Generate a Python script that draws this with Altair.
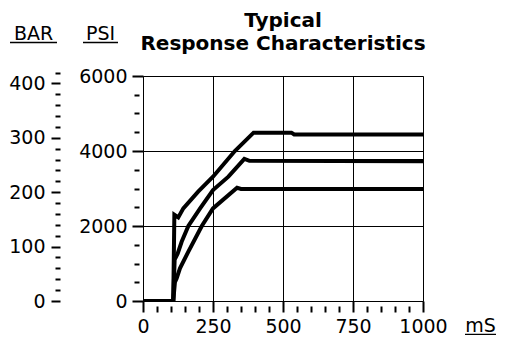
import altair as alt
import pandas as pd

# ---------------- data ----------------
title_lines = ["Typical", "Response Characteristics"]
label_bar = "BAR"
label_psi = "PSI"
label_time = "mS"

series_names = ["High", "Mid", "Low"]

ms_high = [0, 108, 112, 126, 144, 197, 250, 328, 395, 530, 540, 1000]
psi_high = [0, 0, 2300, 2230, 2470, 2915, 3315, 4000, 4490, 4490, 4440, 4440]

ms_mid = [0, 108, 113, 124, 138, 162, 204, 250, 305, 362, 380, 1000]
psi_mid = [0, 0, 1100, 1270, 1580, 2000, 2470, 2960, 3315, 3790, 3740, 3730]

ms_low = [0, 108, 114, 120, 132, 162, 210, 250, 336, 350, 1000]
psi_low = [0, 0, 500, 600, 870, 1316, 2000, 2470, 3020, 2990, 2990]

x_major = [0, 250, 500, 750, 1000]
x_minor = [50, 100, 150, 200, 300, 350, 400, 450, 550, 600, 650, 700,
           800, 850, 900, 950]
psi_major = [0, 2000, 4000, 6000]
psi_minor = [500, 1000, 1500, 2500, 3000, 3500, 4500, 5000, 5500]
bar_major = [0, 100, 200, 300, 400]
bar_minor = [20, 40, 60, 80, 120, 140, 160, 180, 220, 240, 260, 280,
             320, 340, 360, 380, 420]

PSI_PER_BAR = 14.5038

# ---------------- layout constants ----------------
W, H = 280, 225
FONT = "DejaVu Sans"
LFS = 19

rows = []
for name, xs, ys in [("High", ms_high, psi_high), ("Mid", ms_mid, psi_mid), ("Low", ms_low, psi_low)]:
    for a, b in zip(xs, ys):
        rows.append({"series": name, "ms": a, "psi": b})
curves = pd.DataFrame(rows)

xscale = alt.Scale(domain=[0, 1000], nice=False, zero=False)
psiscale = alt.Scale(domain=[0, 6000], nice=False)
bar_top = 420
bar_scale = alt.Scale(domain=[0, bar_top], nice=False,
                      range=[H, H - bar_top * PSI_PER_BAR * H / 6000])

common_axis = dict(labelFont=FONT, labelFontSize=LFS, labelColor="black",
                   tickColor="black", domainColor="black", title=None,
                   labelOverlap=False, labelFlush=False, format="d")

lines = alt.Chart(curves).mark_line(color="black", strokeWidth=4, clip=True).encode(
    x=alt.X("ms:Q", scale=xscale,
            axis=alt.Axis(values=x_major, grid=True, gridColor="black", gridOpacity=1,
                          gridWidth=1, tickSize=11, tickWidth=2, labelPadding=5,
                          domainWidth=1, **common_axis)),
    y=alt.Y("psi:Q", scale=psiscale,
            axis=alt.Axis(values=psi_major, grid=True, gridColor="black", gridOpacity=1,
                          gridWidth=1, tickSize=11, tickWidth=2, labelPadding=5,
                          domainWidth=1, orient="left", **common_axis)),
    detail="series:N",
)

xminor_layer = alt.Chart(pd.DataFrame({"ms": x_minor})).mark_point(opacity=0).encode(
    x=alt.X("ms:Q", scale=xscale,
            axis=alt.Axis(values=x_minor, grid=False, domain=False, labels=False,
                          tickSize=6, tickWidth=2, offset=5, orient="bottom",
                          tickColor="black", title=None)),
    y=alt.value(0),
)

psiminor_layer = alt.Chart(pd.DataFrame({"psi": psi_minor})).mark_point(opacity=0).encode(
    y=alt.Y("psi:Q", scale=psiscale,
            axis=alt.Axis(values=psi_minor, grid=False, domain=False, labels=False,
                          tickSize=5, tickWidth=2, offset=4, orient="left",
                          tickColor="black", title=None)),
    x=alt.value(0),
)

barmajor_layer = alt.Chart(pd.DataFrame({"bar": bar_major})).mark_point(opacity=0).encode(
    y=alt.Y("bar:Q", scale=bar_scale,
            axis=alt.Axis(values=bar_major, grid=False, domain=False,
                          tickSize=9, tickWidth=2, offset=83, orient="left",
                          labelPadding=6, labelFont=FONT, labelFontSize=LFS,
                          labelColor="black", tickColor="black", title=None,
                          labelOverlap=False, labelFlush=False, format="d")),
    x=alt.value(0),
)

barminor_layer = alt.Chart(pd.DataFrame({"bar": bar_minor})).mark_point(opacity=0).encode(
    y=alt.Y("bar:Q", scale=bar_scale,
            axis=alt.Axis(values=bar_minor, grid=False, domain=False, labels=False,
                          tickSize=5, tickWidth=2, offset=83, orient="left",
                          tickColor="black", title=None)),
    x=alt.value(0),
)


def text_layer(txt, x, y, size=LFS, weight="normal"):
    return alt.Chart(pd.DataFrame({"t": [txt]})).mark_text(
        font=FONT, fontSize=size, fontWeight=weight, color="black",
        align="center", baseline="alphabetic",
    ).encode(text="t:N", x=alt.value(x), y=alt.value(y))


def underline(x1, x2, y):
    return alt.Chart(pd.DataFrame({"u": [0]})).mark_rule(color="black", strokeWidth=1.5).encode(
        x=alt.value(x1), x2=alt.value(x2), y=alt.value(y))


title1 = text_layer(title_lines[0], W / 2, -49.5, size=20, weight="bold")
title2 = text_layer(title_lines[1], W / 2, -26.5, size=20, weight="bold")
t_bar = text_layer(label_bar, -109.5, -36)
t_psi = text_layer(label_psi, -42.5, -36)
t_ms = text_layer(label_time, 337.5, 256)
u_bar = underline(-133, -86, -33.5)
u_psi = underline(-60, -25, -33.5)
u_ms = underline(322, 353, 258.5)

chart = alt.layer(
    lines, xminor_layer, psiminor_layer, barmajor_layer, barminor_layer,
    title1, title2, t_bar, t_psi, t_ms, u_bar, u_psi, u_ms,
).resolve_scale(y="independent").resolve_axis(x="independent", y="independent").properties(
    width=W, height=H,
    autosize=alt.AutoSizeParams(type="none"),
    padding={"left": 135, "top": 68, "right": 74, "bottom": 34},
).configure_view(stroke="black", strokeWidth=1).configure(background="white")

chart.save("out.html", embed_options={"renderer": "svg", "actions": False})
